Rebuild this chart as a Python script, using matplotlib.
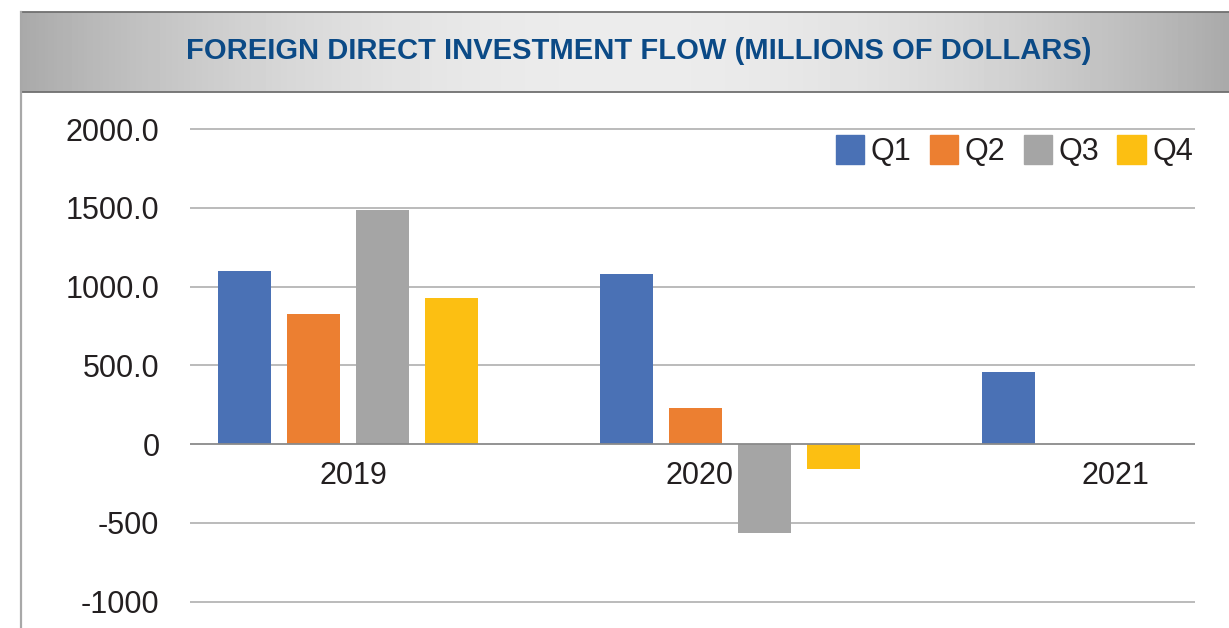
import numpy as np
import matplotlib
matplotlib.use("Agg")
import matplotlib.pyplot as plt
from matplotlib.patches import Patch

plt.rcParams['font.family'] = ['Liberation Sans', 'DejaVu Sans']

# data
years = ["2019", "2020", "2021"]
quarters = ["Q1", "Q2", "Q3", "Q4"]
q1 = [1100, 1081, 458]
q2 = [826, 227, 0]
q3 = [1488, -568, 0]
q4 = [926, -157, 0]
y_ticks = [2000, 1500, 1000, 500, 0, -500, -1000]
y_tick_labels = ["2000.0", "1500.0", "1000.0", "500.0", "0", "-500", "-1000"]

colors = ["#4a71b5", "#ec7f31", "#a5a5a5", "#fcbf12"]
text_col = "#231f20"

W, H = 1229, 628
fig = plt.figure(figsize=(W / 100, H / 100), dpi=100)

# gray gradient banner behind the title
bax = fig.add_axes([21 / W, 1 - 92 / H, 1 - 21 / W, 80 / H])
xx = np.linspace(-1, 1, 400)
shade = 0.925 - 0.26 * xx ** 2
bax.imshow(np.tile(shade, (10, 1)), cmap="gray", vmin=0, vmax=1,
           aspect="auto", extent=[0, 1, 0, 1])
bax.set_axis_off()
fig.add_artist(plt.Line2D([21 / W, 1], [1 - 12 / H] * 2, color="#707070", lw=1.3))
fig.add_artist(plt.Line2D([21 / W, 1], [1 - 92 / H] * 2, color="#707070", lw=1.3))
fig.add_artist(plt.Line2D([21 / W] * 2, [0, 1 - 12 / H], color="#a8a8a8", lw=1.6))
fig.text(639 / W, 1 - 51 / H, "FOREIGN DIRECT INVESTMENT FLOW (MILLIONS OF DOLLARS)",
         ha="center", va="center", fontsize=21, fontweight="bold", color="#0b4a86")

# main chart
ax = fig.add_axes([190 / W, 0, (1195 - 190) / W, (628 - 92) / H])
x = np.arange(len(years))
width = 0.141
step = 0.1806
for i, (vals, c) in enumerate(zip([q1, q2, q3, q4], colors)):
    ax.bar(x + (i - 1.5) * step, vals, width, color=c, zorder=2)

for t in y_ticks:
    ax.axhline(t, color="#8a8a8a" if t == 0 else "#b5b5b5", lw=1.3, zorder=1 if t else 3)

ax.set_xlim(-0.4136, 2.2173)
ax.set_ylim(-1168, 2235)
ax.set_yticks(y_ticks)
ax.set_yticklabels(y_tick_labels, fontsize=22, color=text_col)
ax.tick_params(axis="y", length=0, pad=22)
ax.set_xticks([])
for s in ax.spines.values():
    s.set_visible(False)

# year labels sit just under the zero line
label_x = [0.013, 0.921, 2.01]
for lx, yr in zip(label_x, years):
    ax.annotate(yr, (lx, 0), xytext=(0, -23), textcoords="offset points",
                ha="center", va="center", fontsize=22, color=text_col)

handles = [Patch(color=c) for c in colors]
fig.legend(handles, quarters, loc="upper right", bbox_to_anchor=(1193 / W, 1 - 135 / H),
           ncol=4, frameon=False, fontsize=22, handlelength=0.92, handleheight=1.1,
           handletextpad=0.22, columnspacing=0.6, borderpad=0, borderaxespad=0,
           labelcolor=text_col)

fig.savefig("out.png", dpi=100)
